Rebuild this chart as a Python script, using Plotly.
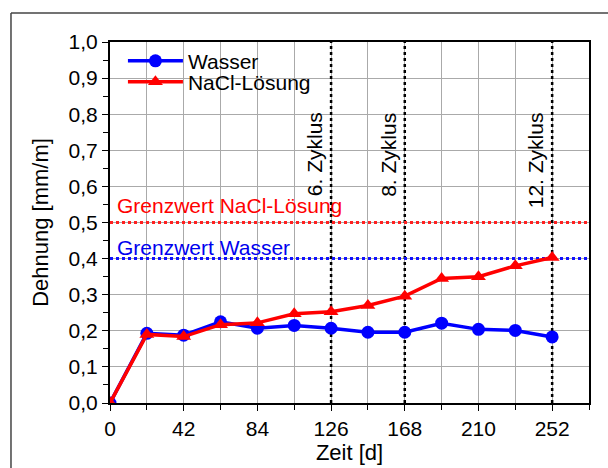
import plotly.graph_objects as go

zeit = [0, 21, 42, 63, 84, 105, 126, 147, 168, 189, 210, 231, 252]
wasser = [0.0, 0.193, 0.188, 0.225, 0.207, 0.215, 0.207, 0.196, 0.196, 0.221, 0.204, 0.201, 0.183]
nacl = [0.0, 0.190, 0.184, 0.217, 0.222, 0.247, 0.253, 0.270, 0.296, 0.345, 0.350, 0.380, 0.403]
zyklus_x = [126, 168, 252]
zyklus_labels = ["6. Zyklus", "8. Zyklus", "12. Zyklus"]
grenz_nacl = 0.5
grenz_wasser = 0.4
x_ticks = [0, 42, 84, 126, 168, 210, 252]

FONT = "Liberation Sans, Arial, sans-serif"
FS = 21

fig = go.Figure()
fig.add_trace(go.Scatter(x=zeit, y=wasser, mode="lines+markers", name="Wasser",
                         line=dict(color="#0000ff", width=3.5),
                         marker=dict(symbol="circle", size=13, color="#0000ff"),
                         legend="legend"))
fig.add_trace(go.Scatter(x=zeit, y=nacl, mode="lines+markers", name="NaCl-Lösung",
                         line=dict(color="#ff0000", width=3.5),
                         marker=dict(symbol="triangle-up", size=13, color="#ff0000"),
                         legend="legend2"))

shapes = []
for zx in zyklus_x:
    shapes.append(dict(type="line", xref="x", yref="y", x0=zx, x1=zx, y0=0, y1=1,
                       line=dict(color="black", width=2.5, dash="dot"), layer="between"))
shapes.append(dict(type="line", xref="x", yref="y", x0=0, x1=273, y0=grenz_nacl, y1=grenz_nacl,
                   line=dict(color="#ff2020", width=3, dash="dot"), layer="between"))
shapes.append(dict(type="line", xref="x", yref="y", x0=0, x1=273, y0=grenz_wasser, y1=grenz_wasser,
                   line=dict(color="#1010ff", width=3, dash="dot"), layer="between"))
# outer frame: top and left edges only (others run off the picture)
shapes.append(dict(type="line", xref="paper", yref="paper", x0=-0.2067, x1=1.1, y0=1.080, y1=1.080,
                   line=dict(color="#444444", width=1.5)))
shapes.append(dict(type="line", xref="paper", yref="paper", x0=-0.2067, x1=-0.2067, y0=-0.5, y1=1.080,
                   line=dict(color="#444444", width=1.5)))

annotations = []
for zx, lab in zip(zyklus_x, zyklus_labels):
    annotations.append(dict(x=zx, y=0.81, xref="x", yref="y", text=lab, showarrow=False,
                            textangle=-90, xanchor="right", yanchor="top", xshift=-3,
                            font=dict(family=FONT, size=FS, color="black")))
annotations.append(dict(x=3, y=grenz_nacl, xref="x", yref="y", text="Grenzwert NaCl-Lösung",
                        showarrow=False, xanchor="left", yanchor="bottom", yshift=4,
                        font=dict(family=FONT, size=FS, color="#ff0000")))
annotations.append(dict(x=3, y=grenz_wasser, xref="x", yref="y", text="Grenzwert Wasser",
                        showarrow=False, xanchor="left", yanchor="bottom", yshift=-2,
                        font=dict(family=FONT, size=FS, color="#0000ee")))

leg_common = dict(xanchor="left", yanchor="middle", bgcolor="rgba(0,0,0,0)",
                  font=dict(family=FONT, size=FS), itemwidth=55)
fig.update_layout(
    width=608, height=468,
    margin=dict(l=110, r=19, t=42, b=65),
    paper_bgcolor="white", plot_bgcolor="white",
    separators=",.",
    font=dict(family=FONT, size=FS, color="black"),
    shapes=shapes, annotations=annotations,
    legend=dict(x=0.027, y=0.947, **leg_common),
    legend2=dict(x=0.027, y=0.889, **leg_common),
    showlegend=True,
)
fig.update_xaxes(range=[0, 273], tickvals=x_ticks, ticktext=[str(v) for v in x_ticks],
                 showgrid=True, gridcolor="#aaaaaa", gridwidth=1,
                 minor=dict(dtick=21, tick0=0, showgrid=True, gridcolor="#aaaaaa", ticks="outside",
                            ticklen=5, tickcolor="black"),
                 ticks="outside", ticklen=6, tickcolor="black",
                 showline=True, linecolor="black", linewidth=2, mirror=True,
                 zeroline=False, automargin=False,
                 title=dict(text="Zeit [d]", standoff=0, font=dict(size=22)))
fig.update_yaxes(range=[0, 1.0], dtick=0.1, tickformat=".1f",
                 showgrid=True, gridcolor="#aaaaaa", gridwidth=1,
                 minor=dict(dtick=0.05, ticks="outside", ticklen=5, tickcolor="black", showgrid=False),
                 ticks="outside", ticklen=6, tickcolor="black",
                 showline=True, linecolor="black", linewidth=2, mirror=True,
                 zeroline=False, automargin=False,
                 title=dict(text="Dehnung [mm/m]", standoff=14, font=dict(size=22)))

fig.write_html("out.html", config={"displayModeBar": False},
               post_script="document.body.style.margin='0';document.body.style.overflow='hidden';")
